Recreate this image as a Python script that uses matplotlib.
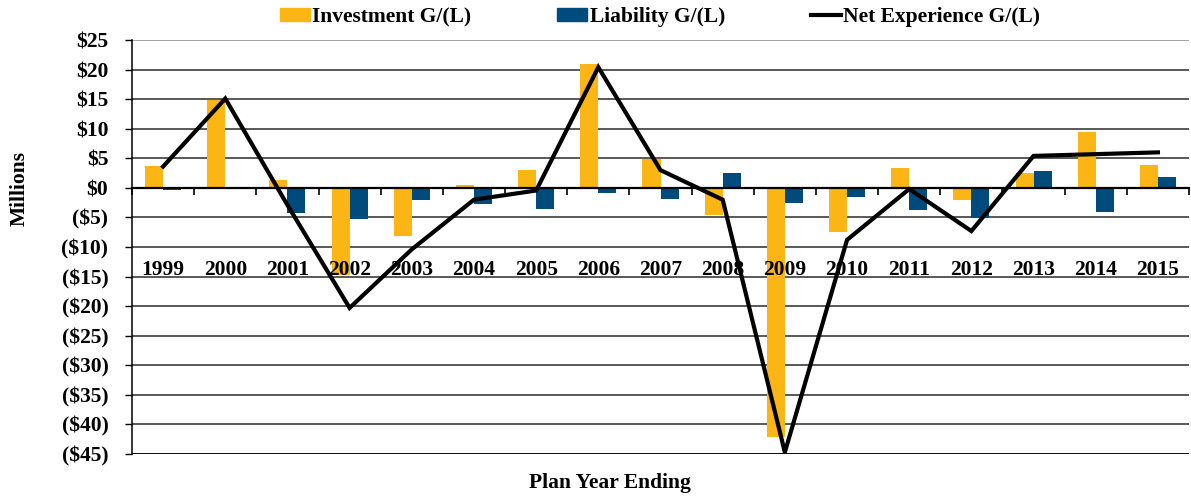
import numpy as np
import matplotlib
matplotlib.use("Agg")
import matplotlib.pyplot as plt
from matplotlib.patches import Patch
from matplotlib.lines import Line2D
from matplotlib.ticker import FuncFormatter

years = ["1999", "2000", "2001", "2002", "2003", "2004", "2005", "2006", "2007",
         "2008", "2009", "2010", "2011", "2012", "2013", "2014", "2015"]
investment = [3.7, 14.9, 1.35, -14.8, -8.2, 0.5, 3.0, 20.9, 4.95,
              -4.6, -42.1, -7.4, 3.4, -2.1, 2.5, 9.5, 3.9]
liability = [-0.4, 0.0, -4.2, -5.3, -2.1, -2.8, -3.6, -0.8, -1.9,
             2.5, -2.5, -1.5, -3.8, -5.1, 2.8, -4.0, 1.9]
net = [3.6, 15.1, -2.9, -20.3, -10.4, -2.0, -0.45, 20.4, 3.0,
       -2.0, -44.7, -8.8, -0.2, -7.3, 5.4, 5.7, 6.0]

orange = "#FBB616"
blue = "#004B7B"

plt.rcParams['font.family'] = ['Liberation Serif', 'DejaVu Serif']
plt.rcParams['font.weight'] = 'bold'
fs = 15.5

fig = plt.figure(figsize=(11.91, 4.97), dpi=100)
ax = fig.add_axes([132/1191, 1-454/497, 1057/1191, 414/497])

x = np.arange(len(years))
w = 0.29
ax.bar(x - w/2, investment, w, color=orange, zorder=3)
ax.bar(x + w/2, liability, w, color=blue, zorder=3)
ax.plot(x, net, color="black", lw=3.0, zorder=4, solid_joinstyle='miter')

ax.set_xlim(-0.5, len(years) - 0.5)
ax.set_ylim(-45, 25)
yt = np.arange(-45, 26, 5)
ax.set_yticks(yt)
ax.yaxis.set_major_formatter(FuncFormatter(
    lambda v, p: f"${v:.0f}" if v >= 0 else f"(${-v:.0f})"))
ax.tick_params(axis='y', direction='out', length=5, width=1, pad=12,
               labelsize=fs, color='black')

for v in yt:
    if v == 0:
        continue
    col = '#8c8c8c' if v == 25 else '#2b2b2b'
    ax.axhline(v, color=col, lw=1.1, zorder=1)

for s in ['top', 'right']:
    ax.spines[s].set_visible(False)
ax.spines['left'].set_linewidth(1.1)
ax.spines['bottom'].set_position(('data', 0))
ax.spines['bottom'].set_linewidth(1.6)
ax.spines['bottom'].set_zorder(5)
ax.axhline(-45, color='black', lw=1.2, zorder=1)

ax.set_xticks(np.arange(-0.5, len(years), 1.0))
ax.set_xticklabels([])
ax.tick_params(axis='x', direction='out', length=5, width=1.2, color='black')

for xi, yr in zip(x, years):
    ax.text(xi, -13.9, yr, ha='center', va='center', fontsize=fs,
            fontweight='bold', zorder=6)

fig.text(20/1191, 1-188/497, "Millions", rotation=90, ha='center', va='center',
         fontsize=fs, fontweight='bold')
fig.text(610/1191, 1-483/497, "Plan Year Ending", ha='center', va='center',
         fontsize=fs, fontweight='bold')

handles = [Patch(color=orange), Patch(color=blue),
           Line2D([0], [0], color='black', lw=3)]
labels = ["Investment G/(L)", "Liability G/(L)", "Net Experience G/(L)"]
fig.legend(handles, labels, loc='center', bbox_to_anchor=(660/1191, 1-17/497),
           ncol=3, frameon=False, prop={'size': fs, 'weight': 'bold'},
           handlelength=1.4, handleheight=0.55, handletextpad=0.1,
           columnspacing=4.0)

fig.savefig("out.png", dpi=100)
